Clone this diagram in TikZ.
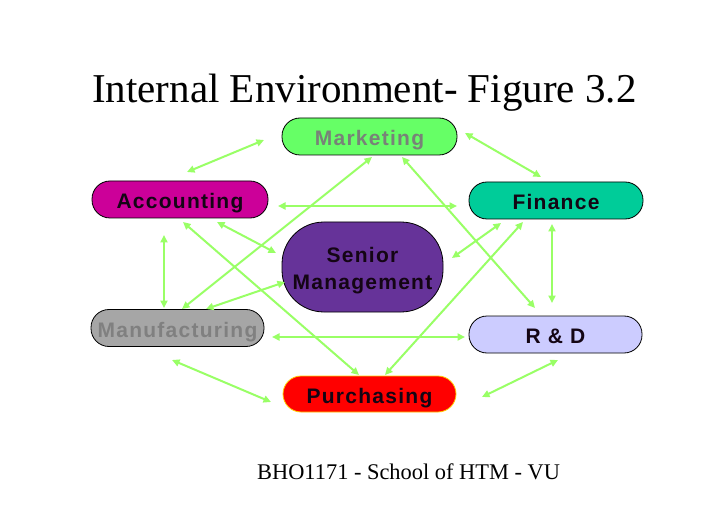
\documentclass[tikz,border=0pt]{standalone}
\usepackage{fontspec}
\setmainfont{Liberation Serif}
\newfontfamily\boxfont[LetterSpace=6]{Liberation Sans}
\usetikzlibrary{arrows.meta}
\definecolor{arrgreen}{RGB}{153,255,102}
\definecolor{mktfill}{RGB}{102,255,102}
\definecolor{mkttext}{RGB}{120,130,120}
\definecolor{accfill}{RGB}{204,0,153}
\definecolor{finfill}{RGB}{0,204,153}
\definecolor{senfill}{RGB}{102,51,153}
\definecolor{manfill}{RGB}{166,166,166}
\definecolor{mantext}{RGB}{128,128,128}
\definecolor{rdfill}{RGB}{204,204,255}
\definecolor{purfill}{RGB}{255,0,0}
\definecolor{purdraw}{RGB}{255,204,0}
\definecolor{boxtext}{RGB}{20,5,20}
\begin{document}
\begin{tikzpicture}[x=1pt,y=1pt,
  box/.style={draw=black,line width=0.8pt,rounded corners=18pt,minimum height=37pt,inner sep=0pt,text=boxtext,
    font=\boxfont\bfseries\fontsize{21}{28}\selectfont},
  oneline/.style={box,text height=18.5pt,text depth=0pt},
  arr/.style={draw=arrgreen,line width=2pt,{Triangle[length=7.5pt,width=7pt]}-{Triangle[length=7.5pt,width=7pt]}}]
\fill[white] (0,0) rectangle (728,504);
\useasboundingbox (0,0) rectangle (728,504);
\node[anchor=base west,inner sep=0pt,font=\fontsize{41}{49}\selectfont] (title) at (92,401) {Internal Environment- Figure 3.2};
\node[anchor=base west,inner sep=0pt,font=\fontsize{22.4}{26}\selectfont] (foot) at (257,25) {BHO1171 - School of HTM - VU};
\node[oneline,fill=mktfill,text=mkttext,minimum width=175pt] (mkt) at (369.5,367.5) {Marketing};
\node[oneline,fill=accfill,minimum width=176pt] (acc) at (180,304.5) {Accounting};
\node[oneline,fill=finfill,minimum width=174pt] (fin) at (556,303.5) {Finance};
\node[box,fill=senfill,minimum width=161pt,minimum height=90pt,rounded corners=42pt,align=center] (sen) at (362.5,237) {\rule{0pt}{22pt}Senior\\[-1pt]Management};
\node[oneline,fill=manfill,text=mantext,minimum width=173pt] (man) at (177.5,176) {Manufacturing};
\node[oneline,fill=rdfill,minimum width=173pt] (rd) at (555.5,169.5) {R \& D};
\node[oneline,fill=purfill,draw=purdraw,minimum width=173pt,minimum height=36pt] (pur) at (369.5,110) {Purchasing};
\draw[arr] ([shift={(7,27.5)}]acc.center) -- ([shift={(-105.5,-3.5)}]mkt.center);
\draw[arr] ([shift={(95.5,3.5)}]mkt.center) -- ([shift={(-15,23.5)}]fin.center);
\draw[arr] ([shift={(98,-6.5)}]acc.center) -- ([shift={(-99,-5.5)}]fin.center);
\draw[arr] ([shift={(2.5,-20.5)}]mkt.center) -- ([shift={(4.5,19)}]man.center);
\draw[arr] ([shift={(32.5,-20.5)}]mkt.center) -- ([shift={(-20.5,26.5)}]rd.center);
\draw[arr] ([shift={(37,-22.5)}]acc.center) -- ([shift={(-86.5,14)}]sen.center);
\draw[arr] ([shift={(3,-22.5)}]acc.center) -- ([shift={(-10.5,19)}]pur.center);
\draw[arr] ([shift={(-55,-22.5)}]fin.center) -- ([shift={(89.5,9)}]sen.center);
\draw[arr] ([shift={(-33,-21.5)}]fin.center) -- ([shift={(15.5,19)}]pur.center);
\draw[arr] ([shift={(-16,-35.5)}]acc.center) -- ([shift={(-13.5,20)}]man.center);
\draw[arr] ([shift={(-4,-23.5)}]fin.center) -- ([shift={(-3.5,31.5)}]rd.center);
\draw[arr] ([shift={(-77.5,-15)}]sen.center) -- ([shift={(28.5,19)}]man.center);
\draw[arr] ([shift={(94.5,-9)}]man.center) -- ([shift={(-90.5,-2.5)}]rd.center);
\draw[arr] ([shift={(-5.5,-32)}]man.center) -- ([shift={(-98.5,-8)}]pur.center);
\draw[arr] ([shift={(2.5,-25.5)}]rd.center) -- ([shift={(112.5,-3)}]pur.center);
\end{tikzpicture}
\end{document}
